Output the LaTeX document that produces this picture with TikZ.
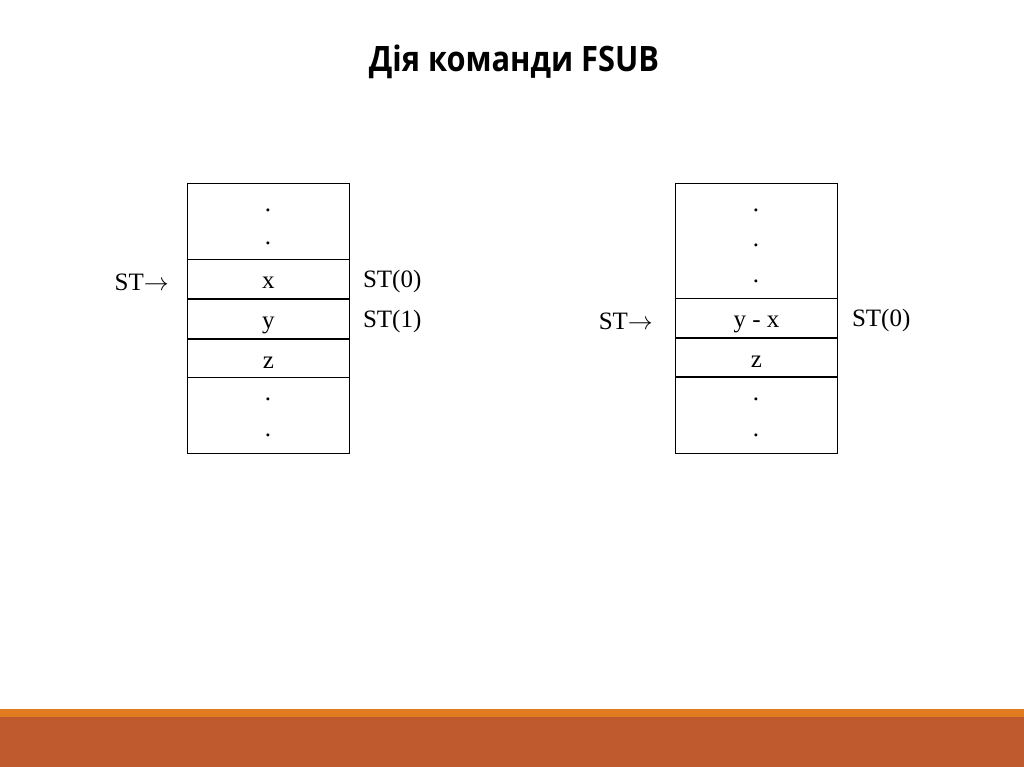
\documentclass[tikz,border=0pt]{standalone}
\usepackage{fontspec}
\setmainfont{Liberation Serif}
\newfontfamily\titlefont[FakeStretch=0.88]{Open Sans}
\usetikzlibrary{positioning}
\definecolor{barorange}{HTML}{E07B1F}
\definecolor{barbrown}{HTML}{BE5A2E}
\tikzset{
  cell/.style={draw, thick, minimum width=162pt, inner sep=0pt, text height=20pt, text depth=0pt, font=\fontsize{25}{27}\selectfont},
  lbl/.style={font=\fontsize{25}{27}\selectfont, inner sep=0pt, yshift=-3pt}
}
\begin{document}
\begin{tikzpicture}[x=1pt,y=-1pt]
\useasboundingbox (0,0) rectangle (1024,767);
\fill[white] (0,0) rectangle (1024,767);
\fill[barorange] (0,709) rectangle (1024,717);
\fill[barbrown] (0,717) rectangle (1024,767);
\node[font=\titlefont\bfseries\fontsize{35}{40}\selectfont] (title) at (514,62) {Дія команди FSUB};
% left stack
\begin{scope}
\node[cell, minimum height=76pt, anchor=north west] (la) at (187,183) {};
\node[lbl] at (268,207) {.};
\node[lbl] at (268,240) {.};
\node[cell, minimum height=39pt, anchor=north west] (lx) at (187,259) {x};
\node[cell, minimum height=39pt, below=0pt of lx] (ly) {y};
\node[cell, minimum height=38pt, below=0pt of ly] (lz) {z};
\node[cell, minimum height=76pt, below=0pt of lz] (lb) {};
\node[lbl] at (268,396) {.};
\node[lbl] at (268,432) {.};
\node[lbl, left=18pt of lx] (lst) {ST$\rightarrow$};
\node[lbl, right=13pt of lx] (l0) {ST(0)};
\node[lbl, right=13pt of ly] (l1) {ST(1)};
\end{scope}
% right stack
\begin{scope}
\node[cell, minimum height=115pt, anchor=north west] (ra) at (675,183) {};
\node[lbl] at (756,207) {.};
\node[lbl] at (756,242) {.};
\node[lbl] at (756,278) {.};
\node[cell, minimum height=39pt, anchor=north west] (ry) at (675,298) {y - x};
\node[cell, minimum height=38pt, below=0pt of ry] (rz) {z};
\node[cell, minimum height=76pt, below=0pt of rz] (rb) {};
\node[lbl] at (756,396) {.};
\node[lbl] at (756,432) {.};
\node[lbl, left=22pt of ry] (rst) {ST$\rightarrow$};
\node[lbl, right=14pt of ry] (r0) {ST(0)};
\end{scope}
\end{tikzpicture}
\end{document}
